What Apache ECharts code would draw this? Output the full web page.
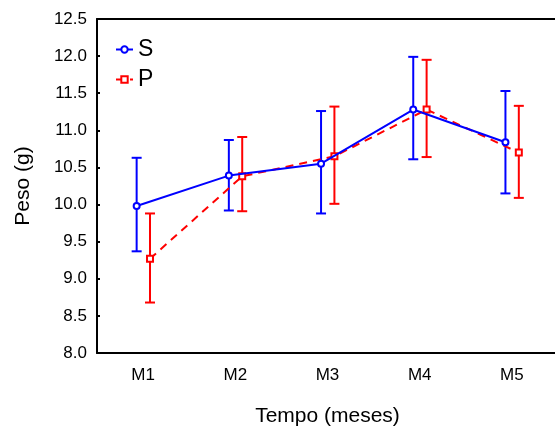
<!DOCTYPE html>
<html>
<head>
<meta charset="utf-8">
<script src="https://cdn.jsdelivr.net/npm/echarts@6/dist/echarts.min.js"></script>
<style>html,body{margin:0;padding:0;background:#fff}#c{width:555px;height:429px}</style>
</head>
<body>
<div id="c"></div>
<script>
const categories = ['M1', 'M2', 'M3', 'M4', 'M5'];
const sMean = [9.98, 10.39, 10.55, 11.28, 10.84];
const sLow  = [9.37, 9.92, 9.88, 10.61, 10.15];
const sHigh = [10.63, 10.87, 11.26, 11.99, 11.53];
const pMean = [9.27, 10.38, 10.65, 11.28, 10.70];
const pLow  = [8.68, 9.91, 10.01, 10.64, 10.09];
const pHigh = [9.88, 10.91, 11.32, 11.95, 11.33];
const yMin = 8.0, yMax = 12.5, yStep = 0.5;

const S_OFF = -0.07, P_OFF = 0.075;
const FONT = 'Liberation Sans, Arial, sans-serif';

function pts(vals, off) { return vals.map((v, i) => [i + 1 + off, v]); }
function bars(lo, hi, off) { return lo.map((v, i) => [i + 1 + off, v, hi[i]]); }

function errRender(color) {
  return function (params, api) {
    const x = api.value(0);
    const a = api.coord([x, api.value(1)]);
    const b = api.coord([x, api.value(2)]);
    const hw = 5;
    const st = { stroke: color, lineWidth: 2 };
    return {
      type: 'group',
      children: [
        { type: 'line', shape: { x1: a[0], y1: a[1], x2: b[0], y2: b[1] }, style: st },
        { type: 'line', shape: { x1: a[0] - hw, y1: a[1], x2: a[0] + hw, y2: a[1] }, style: st },
        { type: 'line', shape: { x1: b[0] - hw, y1: b[1], x2: b[0] + hw, y2: b[1] }, style: st }
      ]
    };
  };
}

const chart = echarts.init(document.getElementById('c'), null, { renderer: 'canvas' });
chart.setOption({
  animation: false,
  backgroundColor: '#fff',
  textStyle: { fontFamily: FONT },
  grid: { left: 97, top: 19, width: 461, height: 334, show: false, outerBoundsMode: 'none', containLabel: false },
  legend: {
    data: ['S', 'P'], orient: 'vertical', left: 115, top: 38, itemWidth: 17, itemHeight: 8, itemGap: 7,
    textStyle: { fontSize: 23, color: '#000', fontFamily: FONT }, padding: 0
  },
  xAxis: [
    {
      type: 'category', data: categories, position: 'bottom', boundaryGap: true,
      name: 'Tempo (meses)', nameLocation: 'middle', nameGap: 53,
      nameTextStyle: { fontSize: 21, color: '#000', fontFamily: FONT },
      axisLine: { lineStyle: { color: '#000', width: 2 } },
      axisTick: { inside: true, length: 3, alignWithLabel: true, lineStyle: { color: '#000', width: 2 } },
      axisLabel: { fontSize: 17, color: '#000', margin: 14, fontFamily: FONT },
      splitLine: { show: false }
    },
    {
      type: 'category', data: categories, position: 'top', boundaryGap: true,
      axisLine: { lineStyle: { color: '#000', width: 2 } },
      axisTick: { inside: true, length: 3, alignWithLabel: true, lineStyle: { color: '#000', width: 2 } },
      axisLabel: { show: false }, splitLine: { show: false }
    },
    { type: 'value', min: 0.5, max: 5.5, show: false }
  ],
  yAxis: {
    type: 'value', min: yMin, max: yMax, interval: yStep,
    name: 'Peso (g)', nameLocation: 'middle', nameGap: 63, nameRotate: 90,
    nameTextStyle: { fontSize: 21, color: '#000', fontFamily: FONT },
    axisLine: { show: true, lineStyle: { color: '#000', width: 2 } },
    axisTick: { show: true, inside: true, length: 3, lineStyle: { color: '#000', width: 2 } },
    axisLabel: { fontSize: 17, color: '#000', margin: 10, fontFamily: FONT, formatter: v => v.toFixed(1) },
    splitLine: { show: false }
  },
  series: [
    {
      name: 'P-err', type: 'custom', xAxisIndex: 2, data: bars(pLow, pHigh, P_OFF),
      renderItem: errRender('#ff0000'), encode: { x: 0, y: [1, 2] }, silent: true, z: 2
    },
    {
      name: 'S-err', type: 'custom', xAxisIndex: 2, data: bars(sLow, sHigh, S_OFF),
      renderItem: errRender('#0000ff'), encode: { x: 0, y: [1, 2] }, silent: true, z: 2
    },
    {
      name: 'P', type: 'line', xAxisIndex: 2, data: pts(pMean, P_OFF),
      symbol: 'emptyRect', symbolSize: 6, color: '#ff0000',
      lineStyle: { color: '#ff0000', width: 2, type: [8, 6] },
      itemStyle: { color: '#ff0000', borderColor: '#ff0000', borderWidth: 2 }, z: 3
    },
    {
      name: 'S', type: 'line', xAxisIndex: 2, data: pts(sMean, S_OFF),
      symbol: 'emptyCircle', symbolSize: 6, color: '#0000ff',
      lineStyle: { color: '#0000ff', width: 2 },
      itemStyle: { color: '#0000ff', borderColor: '#0000ff', borderWidth: 2 }, z: 4
    }
  ]
});
</script>
</body>
</html>
